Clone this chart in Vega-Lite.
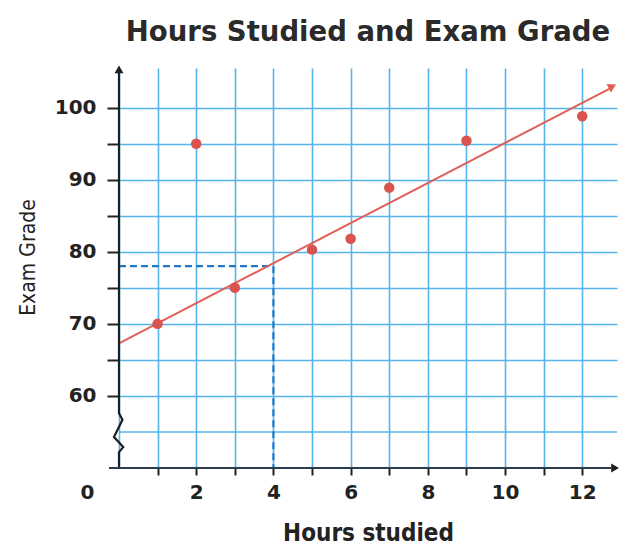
{
  "$schema": "https://vega.github.io/schema/vega-lite/v6.json",
  "width": 498,
  "height": 400,
  "autosize": {"type": "none"},
  "padding": {"left": 119, "top": 68, "right": 6, "bottom": 78},
  "background": "white",
  "config": {"view": {"stroke": null}},
  "title": {
    "text": "Hours Studied and Exam Grade",
    "font": "DejaVu Sans",
    "fontSize": 27.5,
    "fontWeight": "bold",
    "color": "#2a2a2a",
    "anchor": "middle",
    "offset": 19
  },
  "datasets": {
    "students": [
      {"hours": 1, "grade": 70},
      {"hours": 2, "grade": 95},
      {"hours": 3, "grade": 75},
      {"hours": 5, "grade": 80.3},
      {"hours": 6, "grade": 81.8},
      {"hours": 7, "grade": 88.9},
      {"hours": 9, "grade": 95.4},
      {"hours": 12, "grade": 98.8}
    ],
    "trend": [
      {"hours": 0, "grade": 67.3},
      {"hours": 12.7, "grade": 102.6}
    ],
    "trendTip": [
      {"hours": 12.78, "grade": 102.95, "angle": 63}
    ],
    "dashed": [
      {"hours": 0, "hours2": 4, "grade": 78, "grade2": 78},
      {"hours": 4, "hours2": 4, "grade": 78, "grade2": 50}
    ],
    "lowGrid": [
      {"hours": 0, "hours2": 12.9, "grade": 55}
    ],
    "yAxisLine": [
      {"hours": 0, "grade": 50, "i": 0},
      {"hours": 0, "grade": 52.2, "i": 1},
      {"hours": 0.11, "grade": 52.9, "i": 2},
      {"hours": -0.13, "grade": 54.3, "i": 3},
      {"hours": 0.09, "grade": 56.7, "i": 4},
      {"hours": 0, "grade": 57.6, "i": 5},
      {"hours": 0, "grade": 105.0, "i": 6}
    ],
    "xAxisLine": [
      {"hours": -0.26, "hours2": 12.75, "grade": 50}
    ],
    "axisTips": [
      {"hours": 0, "grade": 105.3, "angle": 0},
      {"hours": 12.85, "grade": 50, "angle": 90}
    ]
  },
  "encoding": {
    "x": {
      "field": "hours",
      "type": "quantitative",
      "scale": {"domain": [0, 12.9], "nice": false, "zero": false},
      "axis": {
        "values": [0, 1, 2, 3, 4, 5, 6, 7, 8, 9, 10, 11, 12],
        "labelExpr": "datum.value % 2 === 0 ? datum.label : ''",
        "labelOffset": {"condition": {"test": "datum.value === 0", "value": -32}, "value": 0},
        "labelFlush": false,
        "labelOverlap": false,
        "labelBound": false,
        "domain": false,
        "grid": true,
        "gridColor": "#55b4e9",
        "gridWidth": 1.6,
        "ticks": true,
        "tickSize": 7,
        "tickColor": {"condition": {"test": "datum.value === 0", "value": "rgba(0,0,0,0)"}, "value": "#222222"},
        "tickWidth": 2,
        "labelFont": "DejaVu Sans",
        "labelFontSize": 20,
        "labelFontWeight": "bold",
        "labelColor": "#222222",
        "labelPadding": 7,
        "title": "Hours studied",
        "titleFont": "DejaVu Sans Condensed",
        "titleFontSize": 24,
        "titleFontWeight": "bold",
        "titleColor": "#222222",
        "titleX": 249,
        "titleY": 72,
        "titleBaseline": "alphabetic",
        "encode": {
          "ticks": {
            "update": {
              "y": {"value": -10}
            }
          }
        }
      }
    },
    "y": {
      "field": "grade",
      "type": "quantitative",
      "scale": {"domain": [50, 105.5], "nice": false, "zero": false},
      "axis": {
        "values": [60, 65, 70, 75, 80, 85, 90, 95, 100],
        "labelExpr": "datum.value % 10 === 0 ? datum.label : ''",
        "labelOverlap": false,
        "labelBound": false,
        "domain": false,
        "grid": true,
        "gridColor": "#55b4e9",
        "gridWidth": 1.6,
        "ticks": true,
        "tickSize": 12,
        "tickColor": "#222222",
        "tickWidth": 2,
        "labelFont": "DejaVu Sans",
        "labelFontSize": 20,
        "labelFontWeight": "bold",
        "labelColor": "#222222",
        "labelPadding": 11,
        "title": "Exam Grade",
        "titleFont": "DejaVu Sans Condensed",
        "titleFontSize": 21,
        "titleFontWeight": "normal",
        "titleColor": "#222222",
        "titleAngle": -90,
        "titleX": -85,
        "titleY": 189,
        "titleBaseline": "alphabetic",
        "encode": {
          "ticks": {
            "update": {
              "x": {"value": 7}
            }
          }
        }
      }
    }
  },
  "layer": [
    {
      "data": {"name": "lowGrid"},
      "mark": {"type": "rule", "color": "#55b4e9", "strokeWidth": 1.6},
      "encoding": {"x2": {"field": "hours2"}}
    },
    {
      "data": {"name": "dashed"},
      "mark": {"type": "rule", "color": "#1f78c8", "strokeWidth": 2.2, "strokeDash": [7, 4]},
      "encoding": {
        "x2": {"field": "hours2"},
        "y2": {"field": "grade2"}
      }
    },
    {
      "data": {"name": "trend"},
      "mark": {"type": "line", "color": "#e06058", "strokeWidth": 2},
      "encoding": {}
    },
    {
      "data": {"name": "trendTip"},
      "mark": {"type": "point", "shape": "triangle-up", "filled": true, "color": "#e06058", "size": 90, "opacity": 1},
      "encoding": {"angle": {"field": "angle", "type": "quantitative", "scale": null}}
    },
    {
      "data": {"name": "yAxisLine"},
      "mark": {"type": "line", "color": "#1e1e1e", "strokeWidth": 2.2},
      "encoding": {"order": {"field": "i", "type": "quantitative"}}
    },
    {
      "data": {"name": "xAxisLine"},
      "mark": {"type": "rule", "color": "#2b3c50", "strokeWidth": 2.2},
      "encoding": {"x2": {"field": "hours2"}}
    },
    {
      "data": {"name": "axisTips"},
      "mark": {"type": "point", "shape": "triangle-up", "filled": true, "color": "#1e1e1e", "size": 80, "opacity": 1},
      "encoding": {"angle": {"field": "angle", "type": "quantitative", "scale": null}}
    },
    {
      "data": {"name": "students"},
      "mark": {"type": "point", "shape": "circle", "filled": true, "color": "#d9534f", "size": 110, "opacity": 1}
    }
  ]
}
